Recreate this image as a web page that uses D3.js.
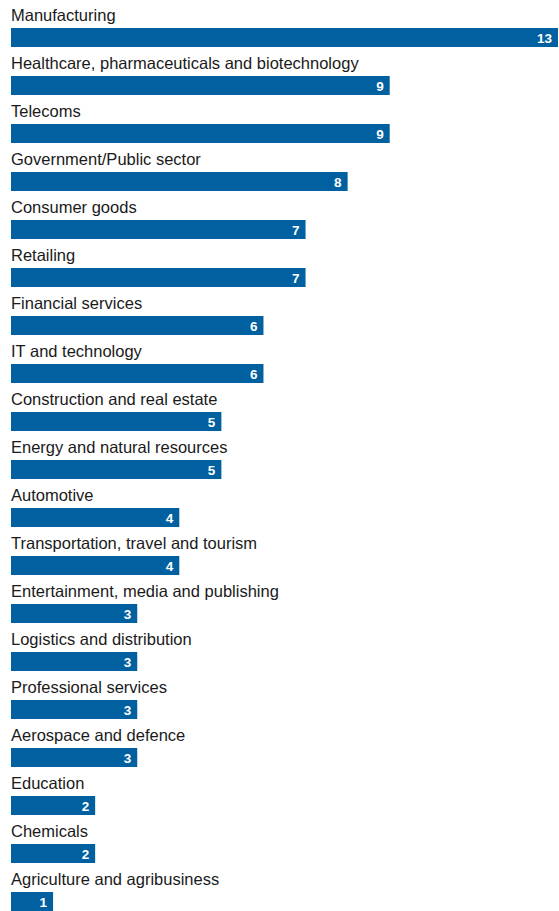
<!DOCTYPE html>
<html><head><meta charset="utf-8">
<script src="https://cdn.jsdelivr.net/npm/d3@7"></script>
<style>
html,body{margin:0;padding:0;background:#fff;}
svg{display:block;}
</style></head>
<body>
<script>
const categories = ["Manufacturing","Healthcare, pharmaceuticals and biotechnology","Telecoms","Government/Public sector","Consumer goods","Retailing","Financial services","IT and technology","Construction and real estate","Energy and natural resources","Automotive","Transportation, travel and tourism","Entertainment, media and publishing","Logistics and distribution","Professional services","Aerospace and defence","Education","Chemicals","Agriculture and agribusiness"];
const values = [13,9,9,8,7,7,6,6,5,5,4,4,3,3,3,3,2,2,1];

const W = 559, H = 911;
const svg = d3.select("body").append("svg").attr("width", W).attr("height", H);
const x = d3.scaleLinear().domain([0, 13]).range([11, 558]);
const y = d3.scaleBand().domain(categories).range([0, 48 * categories.length]).padding(0);
const color = "#0060a0";

const g = svg.selectAll("g.row").data(categories).join("g").attr("class", "row")
  .attr("transform", d => `translate(0,${y(d)})`);

g.append("text").attr("x", 11).attr("y", 21)
  .attr("font-family", "'Liberation Sans', sans-serif").attr("font-size", 16.5)
  .attr("fill", "#1a1a1a").text(d => d);

g.append("rect").attr("x", x(0)).attr("y", 28)
  .attr("width", (d, i) => x(values[i]) - x(0)).attr("height", 19).attr("fill", color);

g.append("text").attr("x", (d, i) => x(values[i]) - 6).attr("y", 43)
  .attr("text-anchor", "end").attr("font-family", "'Liberation Sans', sans-serif")
  .attr("font-weight", "bold").attr("font-size", 13.5).attr("fill", "#fff")
  .text((d, i) => values[i]);
</script>
</body></html>
